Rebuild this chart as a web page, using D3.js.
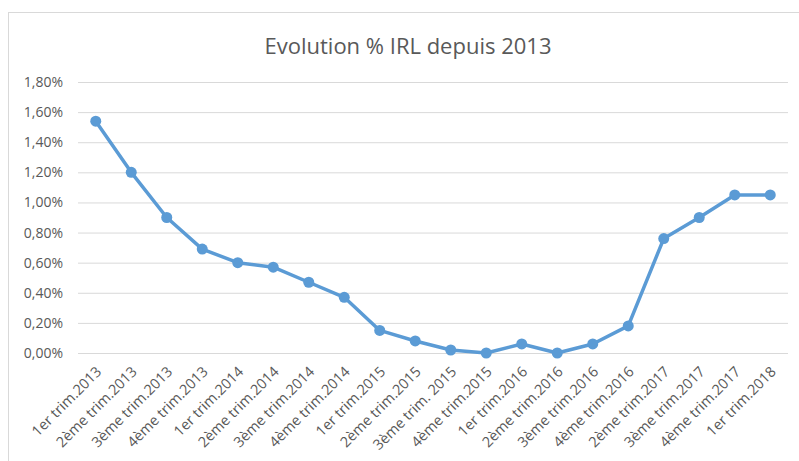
<!DOCTYPE html>
<html lang='fr'>
<head>
  <meta charset='utf-8'/>
  <title>Evolution % IRL depuis 2013</title>
  <script src='https://d3js.org/d3.v7.min.js'></script>
  <style>
    body{margin:0;background:#ffffff;}
    svg{display:block;font-family:'Open Sans',sans-serif;}
  </style>
</head>
<body>
<svg id='chart'></svg>
<script>
// Data
const quarters = [
  '1er trim.2013', '2ème trim.2013', '3ème trim.2013', '4ème trim.2013',
  '1er trim.2014', '2ème trim.2014', '3ème trim.2014', '4ème trim.2014',
  '1er trim.2015', '2ème trim.2015', '3ème trim. 2015', '4ème trim.2015',
  '1er trim.2016', '2ème trim.2016', '3ème trim.2016', '4ème trim.2016',
  '2ème trim.2017', '3ème trim.2017', '4ème trim.2017', '1er trim.2018'
];
const irl = [1.54, 1.20, 0.90, 0.69, 0.60, 0.57, 0.47, 0.37, 0.15, 0.08,
             0.02, 0.00, 0.06, 0.00, 0.06, 0.18, 0.76, 0.90, 1.05, 1.05];
const yTicks = [0, 0.2, 0.4, 0.6, 0.8, 1.0, 1.2, 1.4, 1.6, 1.8];

// Settings
const W = 799, H = 461;
const margin = {top: 82, right: 11, bottom: 108, left: 78};
const width  = W - margin.left - margin.right;
const height = H - margin.top - margin.bottom;
const grey = '#595959';
const blue = '#5b9bd5';

const root = d3.select('#chart').attr('width', W).attr('height', H);

// chart frame
root.append('rect')
  .attr('x', 8.5).attr('y', 12.5)
  .attr('width', W).attr('height', H)
  .attr('fill', 'none').attr('stroke', '#d9d9d9').attr('stroke-width', 1);

root.append('text')
  .attr('x', 408).attr('y', 54)
  .attr('text-anchor', 'middle')
  .attr('fill', grey)
  .style('font-size', '22px')
  .text('Evolution % IRL depuis 2013');

const svg = root.append('g').attr('transform', `translate(${margin.left},${margin.top})`);

const x = d3.scaleBand().domain(quarters).range([0, width]);
const y = d3.scaleLinear().domain([0, 1.8]).range([height, 0]);
const fmt = d => d.toFixed(2).replace('.', ',') + '%';

// grid + y labels
const yAxis = svg.append('g')
  .call(d3.axisLeft(y).tickValues(yTicks).tickSize(-width).tickPadding(15).tickFormat(fmt));
yAxis.select('.domain').remove();
yAxis.selectAll('line').attr('stroke', '#d9d9d9');
yAxis.selectAll('text').attr('fill', grey).style('font-size', '14px')
  .style('font-family', "'Open Sans',sans-serif");

// x labels
const xAxis = svg.append('g').attr('transform', `translate(0,${height})`)
  .call(d3.axisBottom(x).tickSize(0).tickPadding(0));
xAxis.select('.domain').remove();
xAxis.selectAll('text')
  .attr('fill', grey).style('font-size', '14.5px')
  .style('font-family', "'Open Sans',sans-serif")
  .attr('text-anchor', 'end')
  .attr('dy', '0.35em')
  .attr('transform', 'translate(3,16) rotate(-45)');

// line + markers
const cx = (d, i) => x(quarters[i]) + x.bandwidth() / 2;
svg.append('path')
  .datum(irl)
  .attr('fill', 'none')
  .attr('stroke', blue)
  .attr('stroke-width', 3.5)
  .attr('stroke-linejoin', 'round')
  .attr('d', d3.line().x(cx).y(d => y(d)));

svg.selectAll('.pt').data(irl).enter().append('circle')
  .attr('class', 'pt')
  .attr('cx', cx)
  .attr('cy', d => y(d))
  .attr('r', 5.5)
  .attr('fill', blue);
</script>
</body>
</html>
